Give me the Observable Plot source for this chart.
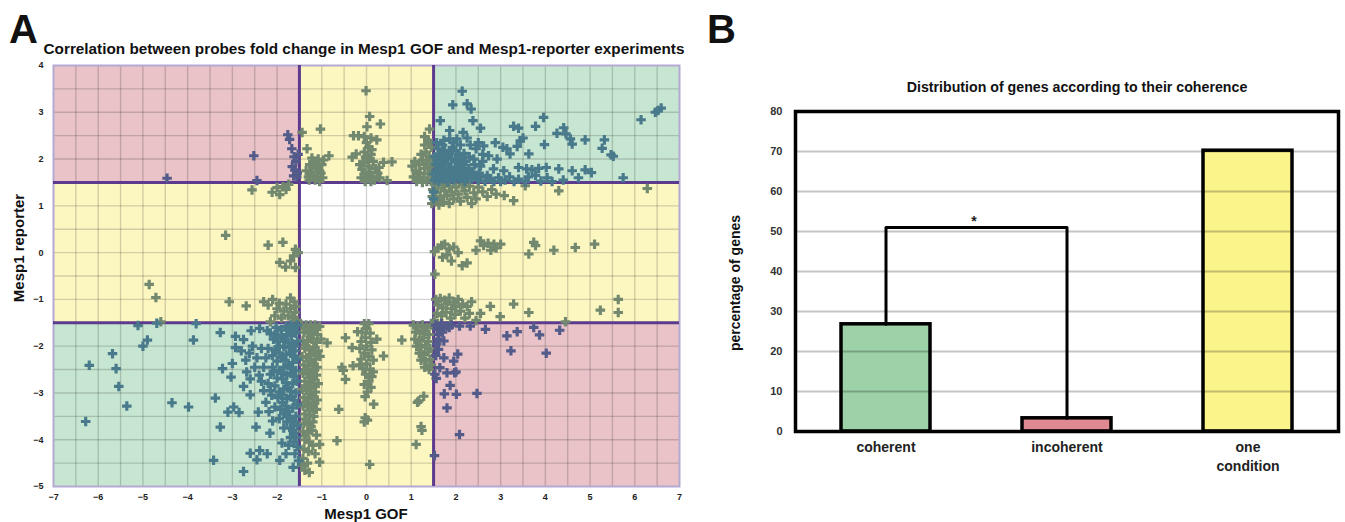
<!DOCTYPE html>
<html>
<head>
<meta charset="utf-8">
<script src="https://cdn.jsdelivr.net/npm/d3@7"></script>
<script src="https://cdn.jsdelivr.net/npm/@observablehq/plot@0.6"></script>
<style>
  html, body { margin: 0; padding: 0; background: #fff; }
  #wrap { position: relative; width: 1345px; height: 522px; overflow: hidden; font-family: "Liberation Sans", Arial, sans-serif; color: #111; }
  .abs { position: absolute; white-space: nowrap; line-height: 1; }
  .c { transform: translate(-50%, -50%); }
  .rot { transform: translate(-50%, -50%) rotate(-90deg); }
  #plotA, #plotB { position: absolute; top: 0; }
  #plotA { left: 0; }
  #plotB { left: 700px; }
</style>
</head>
<body>
<div id="wrap">
  <div id="plotA"></div>
  <div id="plotB"></div>
  <div class="abs" style="left:9px;top:9px;font-size:40px;font-weight:bold;">A</div>
  <div class="abs" style="left:707px;top:9px;font-size:40px;font-weight:bold;">B</div>
  <div class="abs c" style="left:364px;top:49px;font-size:15.3px;font-weight:bold;">Correlation between probes fold change in Mesp1 GOF and Mesp1-reporter experiments</div>
  <div class="abs rot" style="left:18px;top:248px;font-size:15px;font-weight:bold;">Mesp1 reporter</div>
  <div class="abs c" style="left:366px;top:513px;font-size:15px;font-weight:bold;">Mesp1 GOF</div>
  <div class="abs c" style="left:1077px;top:87px;font-size:14.2px;font-weight:bold;">Distribution of genes according to their coherence</div>
  <div class="abs rot" style="left:735px;top:283px;font-size:14px;font-weight:bold;">percentage of genes</div>
</div>
<script>
// ---------------- Panel A data ----------------
const xTicks = [-7,-6,-5,-4,-3,-2,-1,0,1,2,3,4,5,6,7];
const yTicks = [-5,-4,-3,-2,-1,0,1,2,3,4];
const xGrid = [-6.5,-6,-5.5,-5,-4.5,-4,-3.5,-3,-2.5,-2,-1,-0.5,0,0.5,1,2,2.5,3,3.5,4,4.5,5,5.5,6,6.5];
const yGrid = [-4.5,-4,-3.5,-3,-2.5,-2,-1,-0.5,0,0.5,1,2,2.5,3,3.5];
const thresholds = [-1.5, 1.5];
const regions = [
  {x1:-7, x2:-1.5, y1:1.5, y2:4, kind:"incoherent"},
  {x1:1.5, x2:7, y1:-5, y2:-1.5, kind:"incoherent"},
  {x1:1.5, x2:7, y1:1.5, y2:4, kind:"coherent"},
  {x1:-7, x2:-1.5, y1:-5, y2:-1.5, kind:"coherent"},
  {x1:-1.5, x2:1.5, y1:1.5, y2:4, kind:"one"},
  {x1:-1.5, x2:1.5, y1:-5, y2:-1.5, kind:"one"},
  {x1:-7, x2:-1.5, y1:-1.5, y2:1.5, kind:"one"},
  {x1:1.5, x2:7, y1:-1.5, y2:1.5, kind:"one"},
  {x1:-1.5, x2:1.5, y1:-1.5, y2:1.5, kind:"none"}
];

const incoherentUpperLeft = [[-4.46,1.59],[-2.52,2.07],[-2.45,1.54],[-1.76,2.52],[-1.72,2.42],[-1.67,2.22],[-1.62,2.05],[-1.66,1.84],[-1.60,1.76],[-1.63,1.64],[-1.56,1.62],[-1.58,1.95],[-1.55,1.70],[-1.53,2.10]];
const incoherentLowerRight = [[1.58,-1.64],[1.65,-1.58],[1.72,-1.62],[1.80,-1.57],[1.62,-1.75],[1.70,-1.70],[1.55,-1.55],[1.60,-1.85],[1.73,-1.89],[1.85,-1.60],[1.68,-1.52],[1.90,-1.55],[2.08,-1.57],[2.32,-1.57],[2.66,-1.64],[3.14,-1.78],[3.37,-1.69],[3.74,-1.60],[3.87,-1.76],[4.32,-1.66],[3.23,-2.10],[4.02,-2.15],[1.61,-2.07],[1.73,-2.25],[1.95,-2.32],[2.04,-2.17],[1.64,-2.46],[1.80,-2.57],[1.97,-2.57],[2.00,-2.55],[1.56,-2.69],[1.87,-2.84],[1.74,-3.02],[2.01,-3.03],[2.47,-3.01],[1.80,-3.32],[2.08,-3.89],[1.52,-4.34],[1.57,-1.95],[1.55,-2.20],[1.53,-2.60]];
const coherentUpperRight = [[2.14,3.45],[1.93,3.16],[2.25,3.18],[2.34,3.07],[1.65,2.82],[2.38,2.82],[2.55,2.66],[1.86,2.61],[2.16,2.57],[1.86,2.43],[2.02,2.43],[3.29,2.70],[3.40,2.66],[3.78,2.70],[3.96,2.89],[4.26,2.55],[4.41,2.67],[4.46,2.54],[4.56,2.43],[4.60,2.32],[4.89,2.41],[5.32,2.41],[5.27,2.23],[5.47,2.09],[5.52,2.06],[6.14,2.84],[6.46,3.00],[6.59,3.09],[6.52,3.04],[5.74,1.60],[3.98,2.31],[3.63,2.11],[3.44,2.39],[3.37,2.27],[3.50,2.45],[3.14,2.22],[3.21,2.11],[2.73,2.07],[2.92,2.00],[2.84,1.79],[3.07,1.75],[3.40,1.82],[3.58,1.79],[3.70,1.77],[3.85,1.80],[4.02,1.82],[4.30,1.79],[4.60,1.75],[4.89,1.77],[5.03,1.71],[4.74,1.60],[4.04,1.60],[3.78,1.65],[3.62,1.62],[3.20,1.62],[3.40,1.57],[2.95,1.60],[2.70,1.65],[2.55,1.62],[2.45,2.22],[2.62,2.28],[2.88,2.35],[3.05,2.25],[2.25,2.45],[2.50,2.35],
  [1.52,1.55],[1.58,1.62],[1.55,1.75],[1.62,1.85],[1.58,1.98],[1.65,2.10],[1.60,2.22],[1.70,2.30],[1.72,1.58],[1.68,1.70],[1.75,1.80],[1.70,1.95],[1.78,2.05],[1.75,2.18],[1.82,1.52],[1.85,1.65],[1.88,1.78],[1.82,1.90],[1.90,2.00],[1.85,2.12],[1.92,2.25],[1.95,1.55],[1.98,1.68],[2.02,1.82],[1.98,1.95],[2.05,2.08],[2.00,2.18],[2.08,1.58],[2.12,1.72],[2.15,1.88],[2.10,2.00],[2.18,2.12],[2.20,1.52],[2.25,1.65],[2.28,1.80],[2.22,1.95],[2.30,2.05],[2.35,1.58],[2.38,1.72],[2.42,1.88],[2.40,2.00],[2.50,1.55],[2.52,1.70],[2.55,1.85],[1.62,1.52],[1.55,1.88],[1.64,2.00],[1.73,2.40],[1.95,2.35],[2.10,2.30],[1.52,2.05],[1.50,1.68],[2.60,1.95],[2.65,1.52],[2.78,1.58],[2.85,1.52],[3.00,1.52],[3.10,1.55],[3.30,1.52],[3.55,1.52],[3.90,1.53],[4.15,1.52],[4.40,1.55],[1.50,1.30],[1.50,1.15],
  [1.56,1.60],[1.64,1.66],[1.67,1.78],[1.78,1.62],[1.80,1.72],[1.92,1.62],[1.94,1.76],[2.05,1.64],[2.07,1.76],[2.17,1.60],[2.18,1.78],[2.32,1.70],[2.45,1.62],[1.60,1.92],[1.72,2.08],[1.88,2.18],[2.12,1.92],[1.57,2.35],[2.32,2.30],[2.60,2.10]];
const coherentLowerLeft = [[-5.11,-1.56],[-4.69,-1.51],[-4.90,-1.87],[-5.00,-2.00],[-5.68,-2.16],[-6.20,-2.41],[-5.60,-2.48],[-5.54,-2.86],[-5.36,-3.28],[-6.28,-3.61],[-4.35,-3.21],[-3.98,-3.30],[-3.87,-1.87],[-3.81,-1.52],[-3.27,-1.71],[-3.38,-3.11],[-3.27,-3.73],[-3.42,-4.44],[-2.75,-4.68],[-3.00,-2.37],[-3.03,-2.66],[-2.97,-3.30],[-3.10,-3.41],[-2.93,-1.79],[-2.75,-1.86],[-2.58,-1.67],[-2.39,-1.62],[-2.22,-1.67],[-2.60,-3.04],[-2.75,-2.86],[-2.47,-3.73],[-2.42,-3.41],[-2.60,-4.29],[-2.39,-4.23],[-2.22,-4.30],[-2.45,-4.43],[-2.16,-3.86],[-1.94,-4.44],[-1.89,-4.07],[-1.74,-4.12],[-1.64,-4.59],[-1.63,-3.87],[-2.93,-2.03],[-2.80,-2.10],[-2.70,-2.30],[-2.62,-2.15],[-2.55,-2.00],[-2.45,-2.25],[-2.35,-2.05],[-2.68,-2.55],[-2.60,-2.70],[-2.40,-2.62],[-2.50,-2.45],[-2.30,-2.45],[-2.20,-2.80],[-2.15,-2.95],[-2.30,-2.95],[-2.25,-3.20],[-2.05,-3.30],[-1.95,-3.55],[-1.85,-3.75],[-2.10,-3.60],[-1.80,-4.30],[-1.70,-3.95],[-3.22,-2.48],[-2.85,-3.42],[-2.20,-2.05],[-2.10,-2.20],[-2.05,-1.75],[-2.00,-1.90],
  [-1.55,-1.55],[-1.62,-1.60],[-1.70,-1.55],[-1.80,-1.58],[-1.90,-1.65],[-1.58,-1.72],[-1.68,-1.78],[-1.78,-1.75],[-1.88,-1.82],[-1.98,-1.78],[-2.08,-1.85],[-1.55,-1.90],[-1.65,-1.95],[-1.75,-1.92],[-1.85,-2.00],[-1.95,-2.02],[-2.05,-2.08],[-1.60,-2.10],[-1.70,-2.15],[-1.80,-2.18],[-1.90,-2.25],[-2.00,-2.32],[-1.55,-2.28],[-1.65,-2.35],[-1.75,-2.40],[-1.85,-2.45],[-1.95,-2.52],[-1.58,-2.52],[-1.68,-2.58],[-1.78,-2.62],[-1.88,-2.70],[-2.00,-2.68],[-1.55,-2.75],[-1.65,-2.80],[-1.75,-2.88],[-1.85,-2.92],[-1.95,-2.98],[-1.58,-3.00],[-1.68,-3.08],[-1.78,-3.12],[-1.88,-3.20],[-1.55,-3.25],[-1.65,-3.32],[-1.75,-3.40],[-1.85,-3.45],[-1.58,-3.50],[-1.68,-3.58],[-1.55,-3.70],[-1.65,-3.80],[-1.58,-3.95],[-1.55,-4.15],[-1.60,-4.30],[-1.52,-4.45],[-2.10,-2.45],[-2.15,-2.60],[-2.05,-2.85],[-1.98,-3.10],[-2.12,-3.05],[-1.92,-3.35],[-2.02,-1.60],[-2.15,-1.72],
  [-1.62,-1.68],[-1.74,-1.66],[-1.84,-1.88],[-1.60,-2.00],[-1.72,-2.04],[-1.95,-2.14],[-1.62,-2.22],[-1.82,-2.30],[-1.70,-2.48],[-1.90,-2.58],[-1.62,-2.65],[-1.80,-2.78],[-1.70,-2.96],[-1.90,-3.05],[-1.62,-3.15],[-1.80,-3.28],[-1.72,-3.50],[-1.62,-3.62],[-1.78,-3.62],[-1.70,-3.75],[-1.62,-4.05],[-2.25,-2.25],[-2.35,-2.75],[-2.08,-2.55],[-2.18,-3.40]];
const oneCondUpper = [[-1.44,2.57],[-1.33,2.22],[-1.03,2.64],[-0.84,2.07],[-0.01,3.46],[0.07,2.91],[0.01,2.69],[0.31,2.75],[-0.29,2.50],[-0.18,2.50],[-0.05,2.48],[0.10,2.45],[0.23,2.41],[-0.32,2.04],[-0.23,2.11],[0.38,1.93],[0.57,1.94],[0.46,1.54],[1.41,2.64],[1.30,2.48],[1.38,2.40],
  [-1.30,1.62],[-1.25,1.72],[-1.20,1.85],[-1.15,1.95],[-1.22,2.02],[-1.10,1.60],[-1.05,1.75],[-1.00,1.88],[-1.08,2.00],[-1.28,1.55],[-1.18,1.65],[-1.12,1.80],[-0.98,1.60],[-1.02,1.70],[-1.27,1.88],[-1.15,1.55],[-0.96,1.98],[-1.05,1.52],[-1.35,1.75],
  [0.00,2.35],[0.05,2.25],[-0.05,2.15],[0.10,2.10],[0.02,2.00],[-0.08,1.92],[0.15,1.95],[0.05,1.85],[-0.10,1.78],[0.20,1.80],[0.08,1.72],[-0.05,1.68],[0.25,1.70],[0.12,1.62],[-0.12,1.60],[0.02,1.58],[0.30,1.60],[0.18,1.55],[-0.03,1.52],[0.10,1.52],[0.28,1.82],[-0.15,1.88],[0.12,2.20],[-0.02,2.05],
  [1.05,1.62],[1.10,1.75],[1.02,1.85],[1.15,1.58],[1.20,1.70],[1.18,1.88],[1.25,1.98],[1.28,1.60],[1.30,1.80],[1.35,1.92],[1.40,2.05],[1.38,1.68],[1.45,1.55],[1.42,1.85],[1.33,2.15],[1.45,2.25],[1.40,2.35],[1.08,1.95],[1.22,2.10],[1.48,2.00],[1.30,2.30],[1.12,1.52],[1.35,1.52],[1.45,1.75],[1.25,1.50]];
const oneCondLeft = [[-2.56,1.34],[-2.11,1.29],[-1.94,1.24],[-1.87,1.41],[-2.00,1.39],[-1.74,1.46],[-1.80,1.35],[-3.15,0.37],[-2.20,0.16],[-1.87,0.22],[-1.59,0.07],[-1.63,-0.07],[-1.53,0.00],[-1.94,-0.21],[-1.81,-0.31],[-1.59,-0.32],[-1.70,-0.18],[-4.86,-0.68],[-4.71,-0.96],[-3.07,-1.05],[-2.69,-1.14],[-2.30,-1.05],[-2.20,-1.12],[-2.10,-1.00],[-2.00,-1.20],[-1.95,-1.08],[-1.85,-1.25],[-1.80,-1.10],[-1.75,-1.35],[-1.70,-1.20],[-1.65,-1.40],[-1.60,-1.28],[-1.55,-1.45],[-1.58,-1.15],[-1.90,-1.40],[-2.05,-1.35],[-2.15,-1.48],[-1.62,-1.05],[-1.70,-0.97],[-4.60,-1.48]];
const oneCondRight = [[1.52,1.45],[1.60,1.38],[1.55,1.28],[1.65,1.20],[1.58,1.10],[1.70,1.45],[1.75,1.32],[1.80,1.22],[1.72,1.08],[1.85,1.42],[1.90,1.30],[1.95,1.15],[2.00,1.40],[2.05,1.25],[2.10,1.10],[2.15,1.45],[2.20,1.32],[2.25,1.18],[2.30,1.42],[2.40,1.28],[2.45,1.15],[2.50,1.40],[2.60,1.30],[2.70,1.20],[2.80,1.35],[2.90,1.25],[3.08,1.22],[3.29,1.11],[4.30,1.32],[3.55,1.43],[6.28,1.37],[1.48,1.35],[1.47,1.20],[1.46,1.05],[1.62,1.02],[2.35,1.05],[1.85,1.05],
  [1.52,0.02],[1.60,0.10],[1.68,0.15],[1.75,0.18],[1.85,0.08],[1.80,-0.05],[1.70,-0.10],[1.90,-0.18],[2.14,-0.28],[1.95,0.12],[2.05,0.00],[2.55,0.25],[2.62,0.15],[2.72,0.20],[2.85,0.18],[3.00,0.18],[2.45,0.05],[2.78,0.05],[2.90,0.10],[3.63,-0.03],[3.74,0.22],[3.78,0.15],[4.19,0.05],[4.67,0.11],[5.10,0.18],[1.53,-0.46],[2.25,-0.22],
  [1.55,-1.00],[1.65,-0.98],[1.75,-1.02],[1.85,-0.97],[1.95,-1.05],[2.05,-1.00],[2.15,-1.10],[1.60,-1.12],[1.70,-1.18],[1.80,-1.10],[1.90,-1.20],[2.00,-1.15],[2.10,-1.25],[2.25,-1.15],[2.35,-1.05],[1.58,-1.30],[1.68,-1.35],[1.78,-1.28],[1.88,-1.40],[1.98,-1.32],[2.20,-1.40],[2.30,-1.30],[2.55,-1.30],[2.77,-1.15],[3.29,-1.10],[2.99,-1.37],[3.63,-1.28],[4.45,-1.48],[5.23,-1.23],[5.63,-1.00],[5.63,-1.28],[2.45,-1.45],[1.52,-1.45]];
const oneCondLower = [[-1.45,-1.55],[-1.35,-1.55],[-1.25,-1.55],[-1.15,-1.55],[-1.05,-1.58],[-1.40,-1.70],[-1.30,-1.72],[-1.20,-1.68],[-1.10,-1.75],[-1.42,-1.88],[-1.32,-1.90],[-1.22,-1.85],[-1.12,-1.92],[-1.02,-1.85],[-1.38,-2.05],[-1.28,-2.08],[-1.18,-2.02],[-1.08,-2.10],[-1.44,-2.22],[-1.34,-2.25],[-1.24,-2.20],[-1.14,-2.28],[-1.04,-2.22],[-1.40,-2.40],[-1.30,-2.42],[-1.20,-2.38],[-1.10,-2.45],[-1.42,-2.58],[-1.32,-2.60],[-1.22,-2.55],[-1.12,-2.62],[-1.38,-2.75],[-1.28,-2.78],[-1.18,-2.72],[-1.08,-2.80],[-1.44,-2.92],[-1.34,-2.95],[-1.24,-2.90],[-1.14,-2.98],[-1.40,-3.10],[-1.30,-3.12],[-1.20,-3.08],[-1.10,-3.15],[-1.42,-3.28],[-1.32,-3.30],[-1.22,-3.25],[-1.12,-3.35],[-1.38,-3.45],[-1.28,-3.48],[-1.18,-3.50],[-1.40,-3.65],[-1.30,-3.68],[-1.20,-3.62],[-1.42,-3.82],[-1.32,-3.85],[-1.22,-3.80],[-1.12,-3.90],[-1.38,-4.00],[-1.28,-4.05],[-1.05,-4.10],[-1.40,-4.20],[-1.30,-4.25],[-1.15,-4.30],[-1.42,-4.40],[-1.32,-4.50],[-1.05,-4.48],[-1.38,-4.65],[-1.28,-4.70],[-1.45,-4.55],
  [-1.36,-1.62],[-1.16,-1.64],[-1.26,-1.80],[-1.36,-1.98],[-1.16,-2.14],[-1.26,-2.32],[-1.36,-2.50],[-1.16,-2.50],[-1.26,-2.68],[-1.36,-2.85],[-1.16,-2.86],[-1.26,-3.02],[-1.36,-3.20],[-1.16,-3.22],[-1.26,-3.38],[-1.36,-3.56],[-1.24,-3.72],[-1.36,-3.92],[-1.20,-4.12],
  [-0.88,-1.93],[-0.62,-3.35],[-0.66,-4.02],[-0.47,-1.82],[-0.32,-2.03],[-0.30,-2.42],[-0.55,-2.45],[-0.52,-2.52],[-0.47,-2.71],[-0.20,-1.69],[0.16,-3.24],[0.07,-4.53],[0.38,-2.21],[0.23,-1.85],[0.79,-1.87],[-0.03,-3.53],[0.02,-3.58],[-0.05,-3.62],
  [-0.05,-1.52],[0.05,-1.52],[0.00,-1.62],[-0.10,-1.70],[0.08,-1.72],[-0.02,-1.82],[-0.12,-1.90],[0.10,-1.92],[0.00,-2.00],[-0.15,-2.05],[0.12,-2.08],[-0.05,-2.15],[0.05,-2.22],[-0.12,-2.28],[0.15,-2.30],[0.00,-2.38],[-0.08,-2.48],[0.08,-2.50],[-0.02,-2.60],[0.12,-2.65],[0.05,-2.75],[-0.05,-2.82],[0.10,-2.88],[0.02,-2.98],[-0.03,-3.08],[0.15,-2.55],[-0.15,-2.40],
  [1.05,-1.55],[1.15,-1.58],[1.25,-1.55],[1.35,-1.60],[1.45,-1.55],[1.10,-1.70],[1.20,-1.72],[1.30,-1.68],[1.40,-1.75],[1.08,-1.85],[1.18,-1.88],[1.28,-1.82],[1.38,-1.90],[1.12,-2.00],[1.22,-2.02],[1.32,-1.98],[1.42,-2.05],[1.18,-2.15],[1.28,-2.18],[1.38,-2.12],[1.22,-2.30],[1.32,-2.32],[1.42,-2.28],[1.30,-2.45],[1.40,-2.50],[1.45,-2.40],
  [1.17,-3.17],[1.28,-3.07],[1.14,-3.20],[1.22,-3.72],[1.24,-3.80],[1.11,-4.10]];

// ---------------- Panel B data ----------------
const categories = ["coherent", "incoherent", "one condition"];
const percentages = [26.8, 3.3, 70.2];
const barTicks = [0, 10, 20, 30, 40, 50, 60, 70, 80];
const barGrid = [10, 20, 30, 40, 50, 60, 70];
const bracketCats = ["coherent", "coherent", "incoherent", "incoherent"];
const bracketVals = [26.8, 51, 51, 3.3];
const significance = "*";

// ---------------- Styles ----------------
const regionFill = {incoherent: "#e9c3c7", coherent: "#c7e6d2", one: "#fcf7c1", none: "#ffffff"};
const dotColor = {coherent: "#487a8c", incoherent: "#535b8b", one: "#72886f"};
const barFill = {"coherent": "#9dd2a8", "incoherent": "#de8a90", "one condition": "#fbf48b"};

const pt = (arr) => arr.map(([x, y]) => ({x, y}));
const dotOpts = (color) => ({x: "x", y: "y", symbol: "cross", r: 4, fill: color, stroke: null});

const plotA = Plot.plot({
  width: 700, height: 522,
  marginLeft: 53, marginRight: 21, marginTop: 65, marginBottom: 36,
  x: {domain: [-7, 7]},
  y: {domain: [-5, 4]},
  style: {fontFamily: "Liberation Sans, Arial, sans-serif", background: "transparent"},
  marks: [
    Plot.rect(regions, {x1: "x1", x2: "x2", y1: "y1", y2: "y2", fill: d => regionFill[d.kind]}),
    Plot.ruleX(xGrid, {stroke: "#000", strokeOpacity: 0.17, strokeWidth: 1.4}),
    Plot.ruleY(yGrid, {stroke: "#000", strokeOpacity: 0.17, strokeWidth: 1.4}),
    Plot.frame({stroke: "#b3a9d3", strokeWidth: 2}),
    Plot.ruleX(thresholds, {stroke: "#5c3b8e", strokeWidth: 3}),
    Plot.ruleY(thresholds, {stroke: "#5c3b8e", strokeWidth: 3}),
    Plot.dot(pt(oneCondUpper), dotOpts(dotColor.one)),
    Plot.dot(pt(oneCondLeft), dotOpts(dotColor.one)),
    Plot.dot(pt(oneCondRight), dotOpts(dotColor.one)),
    Plot.dot(pt(oneCondLower), dotOpts(dotColor.one)),
    Plot.dot(pt(incoherentUpperLeft), dotOpts(dotColor.incoherent)),
    Plot.dot(pt(incoherentLowerRight), dotOpts(dotColor.incoherent)),
    Plot.dot(pt(coherentUpperRight), dotOpts(dotColor.coherent)),
    Plot.dot(pt(coherentLowerLeft), dotOpts(dotColor.coherent)),
    Plot.axisX(xTicks, {tickSize: 0, tickPadding: 7, fontSize: 9, fontWeight: "bold", fill: "#222", label: null}),
    Plot.axisY(yTicks, {tickSize: 0, tickPadding: 10, fontSize: 9, fontWeight: "bold", fill: "#222", label: null})
  ]
});
document.getElementById("plotA").appendChild(plotA);

const bars = categories.map((c, i) => ({cat: c, value: percentages[i]}));
const bracket = bracketCats.map((c, i) => ({cat: c, value: bracketVals[i]}));

const plotB = Plot.plot({
  width: 645, height: 522,
  marginLeft: 95, marginRight: 7, marginTop: 111, marginBottom: 91,
  x: {domain: categories, paddingInner: 0.51, paddingOuter: 0.255},
  y: {domain: [0, 80]},
  style: {fontFamily: "Liberation Sans, Arial, sans-serif", background: "transparent"},
  marks: [
    Plot.barY(bars, {x: "cat", y: "value", fill: d => barFill[d.cat]}),
    Plot.ruleY(barGrid, {stroke: "#000", strokeOpacity: 0.23, strokeWidth: 2}),
    Plot.barY(bars, {x: "cat", y: "value", fill: "none", stroke: "#000", strokeWidth: 3.5}),
    Plot.line(bracket, {x: "cat", y: "value", stroke: "#000", strokeWidth: 3}),
    Plot.text([significance], {x: () => "coherent", y: () => 51, text: d => d, dx: 88, dy: -6, fontSize: 14, fontWeight: "bold", fill: "#222"}),
    Plot.frame({stroke: "#000", strokeWidth: 3.5}),
    Plot.axisX({tickSize: 0, tickPadding: 8, fontSize: 14, fontWeight: "bold", fill: "#222", lineHeight: 1.3, label: null, tickFormat: d => d.replace(" ", "\n")}),
    Plot.axisY(barTicks, {tickSize: 0, tickPadding: 13, fontSize: 11, fontWeight: "bold", fill: "#333", label: null})
  ]
});
document.getElementById("plotB").appendChild(plotB);
</script>
</body>
</html>
